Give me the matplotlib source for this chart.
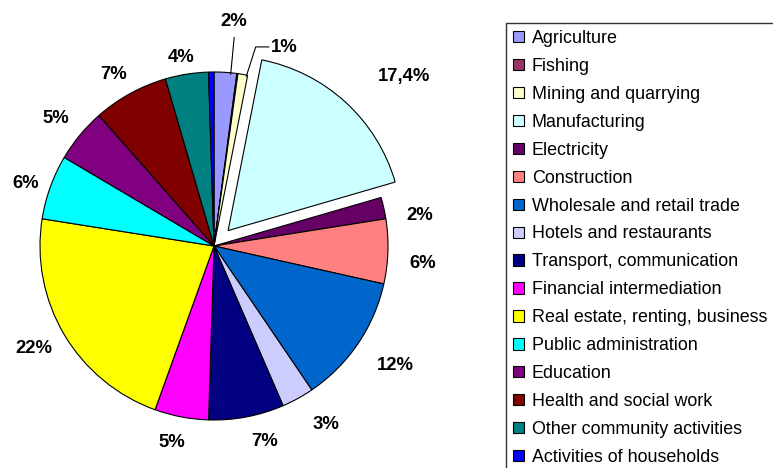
import numpy as np
import matplotlib.pyplot as plt

plt.rcParams['font.family'] = ['Liberation Sans', 'DejaVu Sans']

sectors = ['Agriculture', 'Fishing', 'Mining and quarrying', 'Manufacturing',
           'Electricity', 'Construction', 'Wholesale and retail trade',
           'Hotels and restaurants', 'Transport, communication',
           'Financial intermediation', 'Real estate, renting, business',
           'Public administration', 'Education', 'Health and social work',
           'Other community activities', 'Activities of households']
shares = [2.1, 0.1, 0.9, 17.4, 2.0, 6.0, 12.0, 3.0, 7.0, 5.0, 22.0, 6.0, 5.0, 7.0, 4.0, 0.5]
pct_labels = ['2%', '', '1%', '17,4%', '2%', '6%', '12%', '3%', '7%', '5%',
              '22%', '6%', '5%', '7%', '4%', '']
colors = ['#9999FF', '#993366', '#FFFFCC', '#CCFFFF', '#660066', '#FF8080',
          '#0066CC', '#CCCCFF', '#000080', '#FF00FF', '#FFFF00', '#00FFFF',
          '#800080', '#800000', '#008080', '#0000FF']
explode = [0.12 if s == 'Manufacturing' else 0 for s in sectors]

# small pixel nudges for the percentage labels (x right, y down)
label_nudge = [(0, 0), (0, 0), (0, 0), (38, -3), (2, 15), (0, 11), (10, 3),
               (14, 1), (13, 0), (-5, 1), (-2, -3), (7, 8), (1, 4), (-3, 6),
               (-2, 8), (0, 0)]

W, H = 773, 468
cx, cy, R = 214, 246, 174  # pie centre / radius in pixels
FS = 13.3
LFS = 12.9

fig = plt.figure(figsize=(W / 100, H / 100), dpi=100)
ax = fig.add_axes([(cx - R) / W, (H - cy - R) / H, 2 * R / W, 2 * R / H])

wedges, _ = ax.pie(shares, colors=colors, explode=explode, startangle=90,
                   counterclock=False, radius=1,
                   wedgeprops=dict(edgecolor='black', linewidth=0.8))
for w in wedges:
    w.set_clip_on(False)
ax.set_xlim(-1, 1)
ax.set_ylim(-1, 1)
ax.axis('off')

total = sum(shares)
cum = np.cumsum([0] + shares)
lab_font = dict(fontsize=FS, fontweight='bold')
for i, lab in enumerate(pct_labels):
    if not lab:
        continue
    mid = (cum[i] + cum[i + 1]) / 2 / total
    th = np.deg2rad(90 - 360 * mid)
    ex, ey = np.cos(th), np.sin(th)
    if sectors[i] == 'Agriculture':
        ax.plot([ex + 0.03, ex + 0.05], [ey - 0.01, ey + 0.2], color='black',
                lw=0.8, clip_on=False)
        ax.text(ex + 0.05, ey + 0.29, lab, ha='center', va='center', **lab_font)
    elif sectors[i] == 'Mining and quarrying':
        bx, by = ex + 0.074, ey + 0.158
        ax.plot([ex + 0.02, bx, bx + 0.075], [ey - 0.01, by, by], color='black',
                lw=0.8, clip_on=False)
        ax.text(bx + 0.085, by - 0.005, lab, ha='left', va='center', **lab_font)
    else:
        r = 1.13 + 0.07 * abs(np.cos(th))
        dx, dy = label_nudge[i]
        ax.text(explode[i] * ex + r * ex + dx / R, explode[i] * ey + r * ey - dy / R,
                lab, ha='center', va='center', **lab_font)

fig.legend(wedges, sectors, loc='upper left',
           bbox_to_anchor=(506 / W, 1 - 23 / H), borderaxespad=0,
           fontsize=LFS, frameon=True, fancybox=False, edgecolor='black',
           handlelength=0.59, handleheight=0.59, handletextpad=0.46,
           labelspacing=0.61, borderpad=0.39)

fig.savefig('out.png', dpi=100)
